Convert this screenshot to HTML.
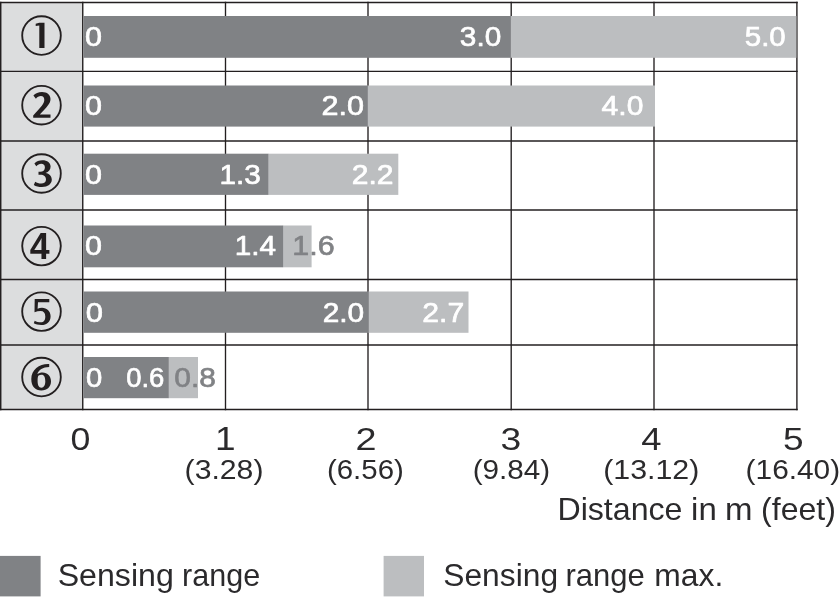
<!DOCTYPE html><html><head><meta charset="utf-8"><title>Sensing range</title><style>html,body{margin:0;padding:0;background:#fff}svg{display:block;will-change:transform}text{font-family:"Liberation Sans",sans-serif;font-size:100px}</style></head><body>
<svg width="840" height="600" viewBox="0 0 840 600">
<rect width="840" height="600" fill="#fff"/>
<g>
<rect x="0.9" y="2.4" width="82" height="407" fill="#dcddde"/>
<line x1="0" y1="2.55" x2="797.7" y2="2.55" stroke="#231f20" stroke-width="1.50"/>
<line x1="0" y1="71.30" x2="797.7" y2="71.30" stroke="#231f20" stroke-width="1.35"/>
<line x1="0" y1="141.00" x2="797.7" y2="141.00" stroke="#231f20" stroke-width="1.35"/>
<line x1="0" y1="210.00" x2="797.7" y2="210.00" stroke="#231f20" stroke-width="1.35"/>
<line x1="0" y1="279.50" x2="797.7" y2="279.50" stroke="#231f20" stroke-width="1.35"/>
<line x1="0" y1="345.00" x2="797.7" y2="345.00" stroke="#231f20" stroke-width="1.35"/>
<line x1="0" y1="409.50" x2="797.7" y2="409.50" stroke="#231f20" stroke-width="1.50"/>
<line x1="82.75" y1="1.8" x2="82.75" y2="410.2" stroke="#231f20" stroke-width="1.40"/>
<line x1="225.50" y1="1.8" x2="225.50" y2="410.2" stroke="#231f20" stroke-width="1.35"/>
<line x1="368.00" y1="1.8" x2="368.00" y2="410.2" stroke="#231f20" stroke-width="1.35"/>
<line x1="511.20" y1="1.8" x2="511.20" y2="410.2" stroke="#231f20" stroke-width="1.35"/>
<line x1="654.00" y1="1.8" x2="654.00" y2="410.2" stroke="#231f20" stroke-width="1.35"/>
<line x1="796.90" y1="1.8" x2="796.90" y2="410.2" stroke="#231f20" stroke-width="1.40"/>
<rect x="0" y="1.8" width="1.45" height="408.45" fill="#231f20"/>
<rect x="510.50" y="16.00" width="285.90" height="41.80" fill="#bcbec0"/>
<rect x="83.50" y="16.00" width="427.30" height="41.80" fill="#808285"/>
<rect x="367.30" y="85.50" width="287.70" height="41.10" fill="#bcbec0"/>
<rect x="83.50" y="85.50" width="284.10" height="41.10" fill="#808285"/>
<rect x="268.00" y="153.70" width="130.30" height="41.20" fill="#bcbec0"/>
<rect x="83.50" y="153.70" width="184.80" height="41.20" fill="#808285"/>
<rect x="282.80" y="225.50" width="28.80" height="41.80" fill="#bcbec0"/>
<rect x="83.50" y="225.50" width="199.60" height="41.80" fill="#808285"/>
<rect x="368.30" y="291.50" width="100.20" height="41.30" fill="#bcbec0"/>
<rect x="83.50" y="291.50" width="285.10" height="41.30" fill="#808285"/>
<rect x="168.50" y="357.00" width="29.50" height="41.20" fill="#bcbec0"/>
<rect x="83.50" y="357.00" width="85.30" height="41.20" fill="#808285"/>
<text transform="matrix(0.3053 0 0 0.2831 84.93 46.27)" fill="#ffffff" stroke="#ffffff" stroke-width="2.38" stroke-linejoin="round">0</text>
<text transform="matrix(0.2977 0 0 0.2831 459.86 46.27)" fill="#ffffff" stroke="#ffffff" stroke-width="2.41" stroke-linejoin="round">3.0</text>
<text transform="matrix(0.2947 0 0 0.2831 744.77 46.27)" fill="#ffffff" stroke="#ffffff" stroke-width="2.42" stroke-linejoin="round">5.0</text>
<text transform="matrix(0.3053 0 0 0.2831 84.93 115.47)" fill="#ffffff" stroke="#ffffff" stroke-width="2.38" stroke-linejoin="round">0</text>
<text transform="matrix(0.3062 0 0 0.2831 321.52 115.47)" fill="#ffffff" stroke="#ffffff" stroke-width="2.38" stroke-linejoin="round">2.0</text>
<text transform="matrix(0.3004 0 0 0.2831 601.60 115.47)" fill="#ffffff" stroke="#ffffff" stroke-width="2.40" stroke-linejoin="round">4.0</text>
<text transform="matrix(0.3053 0 0 0.2831 84.93 184.07)" fill="#ffffff" stroke="#ffffff" stroke-width="2.38" stroke-linejoin="round">0</text>
<text transform="matrix(0.2976 0 0 0.2831 219.52 184.07)" fill="#ffffff" stroke="#ffffff" stroke-width="2.41" stroke-linejoin="round">1.3</text>
<text transform="matrix(0.3008 0 0 0.2831 351.75 184.07)" fill="#ffffff" stroke="#ffffff" stroke-width="2.40" stroke-linejoin="round">2.2</text>
<text transform="matrix(0.3053 0 0 0.2845 84.93 255.37)" fill="#ffffff" stroke="#ffffff" stroke-width="2.37" stroke-linejoin="round">0</text>
<text transform="matrix(0.2973 0 0 0.2845 234.82 255.37)" fill="#ffffff" stroke="#ffffff" stroke-width="2.41" stroke-linejoin="round">1.4</text>
<text transform="matrix(0.3047 0 0 0.2845 292.26 255.37)" fill="#808285" stroke="#808285" stroke-width="2.38" stroke-linejoin="round">1.6</text>
<text transform="matrix(0.3095 0 0 0.2831 85.71 321.97)" fill="#ffffff" stroke="#ffffff" stroke-width="2.36" stroke-linejoin="round">0</text>
<text transform="matrix(0.2985 0 0 0.2831 322.66 321.97)" fill="#ffffff" stroke="#ffffff" stroke-width="2.41" stroke-linejoin="round">2.0</text>
<text transform="matrix(0.3016 0 0 0.2831 422.24 321.97)" fill="#ffffff" stroke="#ffffff" stroke-width="2.39" stroke-linejoin="round">2.7</text>
<text transform="matrix(0.2926 0 0 0.2831 86.08 387.37)" fill="#ffffff" stroke="#ffffff" stroke-width="2.43" stroke-linejoin="round">0</text>
<text transform="matrix(0.2743 0 0 0.2831 126.25 387.37)" fill="#ffffff" stroke="#ffffff" stroke-width="2.51" stroke-linejoin="round">0.6</text>
<text transform="matrix(0.2992 0 0 0.2831 174.35 387.37)" fill="#808285" stroke="#808285" stroke-width="2.40" stroke-linejoin="round">0.8</text>
<circle cx="41.5" cy="35.50" r="19.3" fill="none" stroke="#231f20" stroke-width="1.85"/>
<circle cx="41.5" cy="105.20" r="19.3" fill="none" stroke="#231f20" stroke-width="1.85"/>
<circle cx="41.5" cy="173.50" r="19.3" fill="none" stroke="#231f20" stroke-width="1.85"/>
<circle cx="41.5" cy="246.10" r="19.3" fill="none" stroke="#231f20" stroke-width="1.85"/>
<circle cx="41.5" cy="311.60" r="19.3" fill="none" stroke="#231f20" stroke-width="1.85"/>
<circle cx="41.5" cy="377.00" r="19.3" fill="none" stroke="#231f20" stroke-width="1.85"/>
<path d="M39.3 22.7 L44.5 22.7 L44.5 47.9 L39.3 47.9 L39.3 25.5 L35.7 26.1 L35.7 23.7 Z" fill="#231f20"/>
<path fill="#231f20" d="M33.4 95.6 C35.4 93.3 38.4 92.0 42.0 92.0 C47.2 92.0 50.5 94.8 50.5 99.0 C50.5 103.6 46.5 107.5 39.8 114.4 L50.5 114.4 L50.5 117.8 L33.2 117.8 L33.2 115.4 C41.0 107.2 44.3 103.6 44.3 100.0 C44.3 97.4 43.1 95.9 40.9 95.9 C38.9 95.9 37.2 96.9 35.9 98.7 Z"/>
<path fill="#231f20" d="M34.4 163.4 C36.4 161.4 39.2 160.2 42.4 160.2 C47.4 160.2 50.6 162.8 50.6 166.6 C50.6 169.8 48.6 172.0 45.6 172.9 C49.4 173.6 51.8 176.0 51.8 179.6 C51.8 184.2 47.8 187.0 42.0 187.0 C38.6 187.0 35.8 186.2 33.8 184.9 L35.2 181.7 C36.8 182.8 38.9 183.5 41.1 183.5 C44.2 183.5 46.0 182.0 46.0 179.5 C46.0 176.4 43.9 174.7 40.4 174.7 L38.5 174.7 L38.5 171.7 L40.2 171.7 C43.0 171.7 44.9 170.1 44.9 167.4 C44.9 165.2 43.5 163.8 41.2 163.8 C39.4 163.8 37.7 164.7 36.3 166.3 Z"/>
<path fill="#231f20" d="M34.7 299.1 L49.3 299.1 L49.3 302.2 L38.0 302.2 L37.6 308.8 C38.9 308.1 40.5 307.7 42.0 307.7 C47.0 307.8 50.6 311.2 50.6 316.2 C50.6 321.6 46.8 325.0 41.3 325.0 C38.3 325.0 35.6 324.3 33.8 323.3 L34.7 320.7 C36.4 321.7 38.6 322.3 40.8 322.3 C43.8 322.3 45.3 320.0 45.3 316.4 C45.3 312.8 43.6 310.9 40.6 310.9 C38.6 310.9 36.5 311.4 34.5 312.3 Z"/>
<path fill="#231f20" fill-rule="evenodd" d="M49.2 364.0 C40.0 363.4 31.3 369.5 31.3 379.0 C31.3 386.5 35.3 390.5 41.3 390.5 C47.3 390.5 51.0 386.8 51.0 381.3 C51.0 375.9 47.5 372.4 42.6 372.4 C40.5 372.4 38.7 373.0 37.4 374.0 C38.5 369.6 43.0 367.0 49.2 366.9 Z M41.5 374.8 C44.2 374.8 45.3 377.5 45.3 381.3 C45.3 385.0 44.0 387.7 41.4 387.7 C38.6 387.7 37.6 384.5 37.6 381.0 C37.6 378.0 37.9 376.6 38.3 375.8 C39.2 375.2 40.3 374.8 41.5 374.8 Z"/>
<text transform="matrix(0.3570 0 0 0.3681 29.66 258.80)" fill="#231f20" font-weight="bold">4</text>
<text transform="matrix(0.3579 0 0 0.3183 70.57 449.68)" fill="#2b2a2c">0</text>
<text transform="matrix(0.3698 0 0 0.3261 214.93 449.80)" fill="#2b2a2c">1</text>
<text transform="matrix(0.3780 0 0 0.3183 355.61 449.68)" fill="#2b2a2c">2</text>
<text transform="matrix(0.3723 0 0 0.3183 500.61 449.68)" fill="#2b2a2c">3</text>
<text transform="matrix(0.3640 0 0 0.3183 641.19 449.68)" fill="#2b2a2c">4</text>
<text transform="matrix(0.3705 0 0 0.3183 783.02 449.68)" fill="#2b2a2c">5</text>
<text transform="matrix(0.3020 0 0 0.2695 184.59 478.54)" fill="#2b2a2c">(3.28)</text>
<text transform="matrix(0.2944 0 0 0.2695 326.93 478.54)" fill="#2b2a2c">(6.56)</text>
<text transform="matrix(0.2968 0 0 0.2695 472.72 478.54)" fill="#2b2a2c">(9.84)</text>
<text transform="matrix(0.3034 0 0 0.2695 603.18 478.54)" fill="#2b2a2c">(13.12)</text>
<text transform="matrix(0.2985 0 0 0.2695 745.61 478.54)" fill="#2b2a2c">(16.40)</text>
<text transform="matrix(0.3216 0 0 0.3159 557.43 520.30)" fill="#2b2a2c">Distance</text>
<text transform="matrix(0.3302 0 0 0.3159 691.05 520.30)" fill="#2b2a2c">in</text>
<text transform="matrix(0.3300 0 0 0.3159 725.06 520.30)" fill="#2b2a2c">m</text>
<text transform="matrix(0.3204 0 0 0.3159 761.08 520.30)" fill="#2b2a2c">(feet)</text>
<rect x="0" y="555.9" width="40.6" height="40.5" fill="#808285"/>
<rect x="383.6" y="555.9" width="40.4" height="40.5" fill="#bcbec0"/>
<text transform="matrix(0.3213 0 0 0.3225 57.65 585.88)" fill="#2b2a2c">Sensing</text>
<text transform="matrix(0.3055 0 0 0.3225 182.11 585.88)" fill="#2b2a2c">range</text>
<text transform="matrix(0.3178 0 0 0.3225 443.27 585.88)" fill="#2b2a2c">Sensing</text>
<text transform="matrix(0.3104 0 0 0.3225 565.38 585.88)" fill="#2b2a2c">range</text>
<text transform="matrix(0.3179 0 0 0.3225 654.33 585.88)" fill="#2b2a2c">max.</text>
</g></svg></body></html>
